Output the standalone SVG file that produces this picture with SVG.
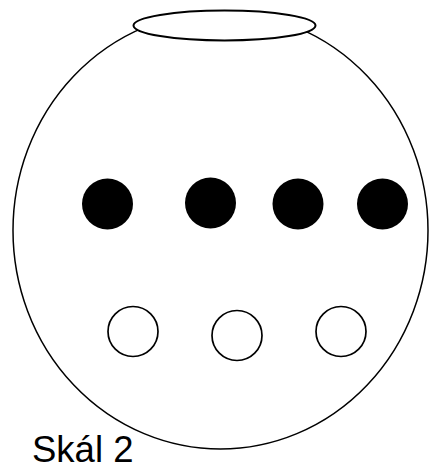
<svg xmlns="http://www.w3.org/2000/svg" width="430" height="466" viewBox="0 0 430 466">
<style>
.line{fill:none;stroke:#000;stroke-width:1.5}
.lid{fill:#fff;stroke:#000;stroke-width:2}
.full{fill:#000}
.empty{fill:#fff;stroke:#000;stroke-width:1.7}
.lbl{font-family:"Liberation Sans",Arial,sans-serif;font-size:36.5px;fill:#000}
</style>
<rect width="430" height="466" fill="#fff"/>
<g id="bowl">
<ellipse class="line" cx="220.5" cy="230.5" rx="207.5" ry="218.5"/>
</g>
<g id="lid">
<ellipse class="lid" cx="224.5" cy="25.5" rx="91" ry="15"/>
</g>
<g id="black-dots">
<circle id="dot1" class="full" cx="107.5" cy="204" r="25.5"/>
<circle id="dot2" class="full" cx="210.5" cy="203" r="25.5"/>
<circle id="dot3" class="full" cx="298" cy="204" r="25.5"/>
<circle id="dot4" class="full" cx="382.5" cy="204" r="25.5"/>
</g>
<g id="white-dots">
<circle id="ring1" class="empty" cx="133" cy="331.5" r="25"/>
<circle id="ring2" class="empty" cx="237" cy="335.5" r="25"/>
<circle id="ring3" class="empty" cx="341" cy="331.5" r="25"/>
</g>
<g id="label">
<text class="lbl" x="32" y="461.5">Skál 2</text>
</g>
</svg>
